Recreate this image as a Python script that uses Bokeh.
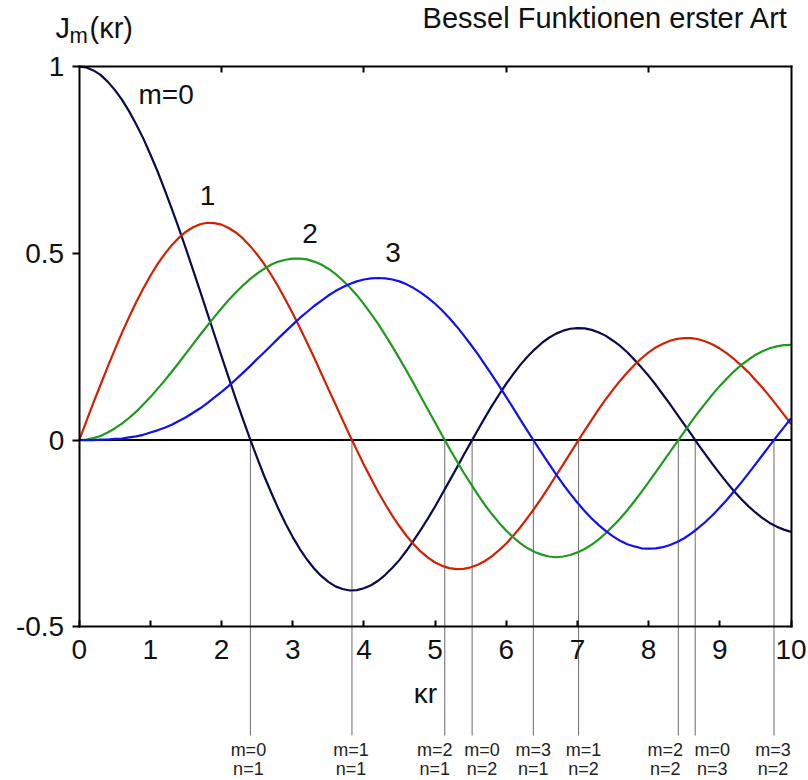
from bokeh.plotting import figure
from bokeh.models import Range1d, LinearAxis, FixedTicker, ColumnDataSource
from bokeh.core.properties import value
from bokeh.embed import file_html
from bokeh.resources import INLINE

# Argument kr (0 ... 10, step 0.1)
kr = [0.0, 0.1, 0.2, 0.3, 0.4, 0.5, 0.6, 0.7, 0.8, 0.9,
      1.0, 1.1, 1.2, 1.3, 1.4, 1.5, 1.6, 1.7, 1.8, 1.9,
      2.0, 2.1, 2.2, 2.3, 2.4, 2.5, 2.6, 2.7, 2.8, 2.9,
      3.0, 3.1, 3.2, 3.3, 3.4, 3.5, 3.6, 3.7, 3.8, 3.9,
      4.0, 4.1, 4.2, 4.3, 4.4, 4.5, 4.6, 4.7, 4.8, 4.9,
      5.0, 5.1, 5.2, 5.3, 5.4, 5.5, 5.6, 5.7, 5.8, 5.9,
      6.0, 6.1, 6.2, 6.3, 6.4, 6.5, 6.6, 6.7, 6.8, 6.9,
      7.0, 7.1, 7.2, 7.3, 7.4, 7.5, 7.6, 7.7, 7.8, 7.9,
      8.0, 8.1, 8.2, 8.3, 8.4, 8.5, 8.6, 8.7, 8.8, 8.9,
      9.0, 9.1, 9.2, 9.3, 9.4, 9.5, 9.6, 9.7, 9.8, 9.9,
      10.0]

# Bessel functions of the first kind J0 ... J3
j0 = [1.000, 0.998, 0.990, 0.978, 0.960, 0.938, 0.912, 0.881, 0.846, 0.808,
      0.765, 0.720, 0.671, 0.620, 0.567, 0.512, 0.455, 0.398, 0.340, 0.282,
      0.224, 0.167, 0.110, 0.056, 0.003, -0.048, -0.097, -0.142, -0.185, -0.224,
      -0.260, -0.292, -0.320, -0.344, -0.364, -0.380, -0.392, -0.399, -0.403, -0.402,
      -0.397, -0.389, -0.377, -0.361, -0.342, -0.321, -0.296, -0.269, -0.240, -0.210,
      -0.178, -0.144, -0.110, -0.076, -0.041, -0.007, 0.027, 0.060, 0.092, 0.122,
      0.151, 0.177, 0.202, 0.224, 0.243, 0.260, 0.274, 0.285, 0.293, 0.298,
      0.300, 0.299, 0.295, 0.288, 0.279, 0.266, 0.252, 0.235, 0.215, 0.194,
      0.172, 0.148, 0.122, 0.096, 0.069, 0.042, 0.015, -0.013, -0.039, -0.065,
      -0.090, -0.114, -0.137, -0.158, -0.177, -0.194, -0.209, -0.222, -0.232, -0.240,
      -0.246]
j1 = [0.000, 0.050, 0.100, 0.148, 0.196, 0.242, 0.287, 0.329, 0.369, 0.406,
      0.440, 0.471, 0.498, 0.522, 0.542, 0.558, 0.570, 0.578, 0.582, 0.581,
      0.577, 0.568, 0.556, 0.540, 0.520, 0.497, 0.471, 0.442, 0.410, 0.375,
      0.339, 0.301, 0.261, 0.221, 0.179, 0.137, 0.096, 0.054, 0.013, -0.027,
      -0.066, -0.103, -0.139, -0.172, -0.203, -0.231, -0.257, -0.279, -0.299, -0.315,
      -0.328, -0.337, -0.343, -0.346, -0.345, -0.341, -0.334, -0.324, -0.311, -0.295,
      -0.277, -0.256, -0.233, -0.208, -0.182, -0.154, -0.125, -0.095, -0.065, -0.035,
      -0.005, 0.025, 0.054, 0.083, 0.110, 0.135, 0.159, 0.181, 0.201, 0.219,
      0.235, 0.248, 0.258, 0.266, 0.271, 0.273, 0.273, 0.270, 0.264, 0.256,
      0.245, 0.232, 0.217, 0.200, 0.182, 0.161, 0.140, 0.117, 0.093, 0.068,
      0.043]
j2 = [0.000, 0.001, 0.005, 0.011, 0.020, 0.031, 0.044, 0.059, 0.076, 0.095,
      0.115, 0.137, 0.159, 0.183, 0.207, 0.232, 0.257, 0.282, 0.306, 0.330,
      0.353, 0.375, 0.395, 0.414, 0.431, 0.446, 0.459, 0.470, 0.478, 0.483,
      0.486, 0.486, 0.484, 0.478, 0.470, 0.459, 0.445, 0.428, 0.409, 0.388,
      0.364, 0.338, 0.311, 0.281, 0.250, 0.218, 0.185, 0.151, 0.116, 0.081,
      0.047, 0.012, -0.022, -0.055, -0.087, -0.117, -0.146, -0.174, -0.199, -0.222,
      -0.243, -0.261, -0.277, -0.290, -0.300, -0.307, -0.312, -0.314, -0.312, -0.308,
      -0.301, -0.292, -0.280, -0.266, -0.249, -0.230, -0.210, -0.188, -0.164, -0.139,
      -0.113, -0.086, -0.059, -0.032, -0.005, 0.022, 0.049, 0.075, 0.099, 0.123,
      0.145, 0.165, 0.184, 0.201, 0.215, 0.228, 0.238, 0.246, 0.251, 0.254,
      0.255]
j3 = [0.000, 0.000, 0.000, 0.001, 0.001, 0.003, 0.004, 0.007, 0.010, 0.014,
      0.020, 0.026, 0.033, 0.041, 0.051, 0.061, 0.073, 0.085, 0.099, 0.114,
      0.129, 0.145, 0.162, 0.180, 0.198, 0.217, 0.235, 0.254, 0.273, 0.291,
      0.309, 0.327, 0.343, 0.359, 0.373, 0.387, 0.399, 0.409, 0.418, 0.425,
      0.430, 0.433, 0.434, 0.433, 0.430, 0.425, 0.417, 0.407, 0.395, 0.381,
      0.365, 0.347, 0.327, 0.305, 0.281, 0.256, 0.230, 0.202, 0.174, 0.145,
      0.115, 0.085, 0.054, 0.024, -0.006, -0.035, -0.064, -0.092, -0.119, -0.144,
      -0.168, -0.190, -0.210, -0.228, -0.244, -0.258, -0.270, -0.279, -0.285, -0.290,
      -0.291, -0.290, -0.287, -0.281, -0.273, -0.263, -0.250, -0.235, -0.219, -0.201,
      -0.181, -0.160, -0.137, -0.114, -0.090, -0.065, -0.040, -0.015, 0.010, 0.034,
      0.058]

curve_names = ["m=0", "1", "2", "3"]
curve_colors = ["#0a0a4e", "#d42000", "#1f9a1f", "#1010f0"]

# Zeros j_{m,n} of the Bessel functions
zero_pos = [2.405, 3.832, 5.136, 5.520, 6.380, 7.016, 8.417, 8.654, 9.761]
zero_m = ["m=0", "m=1", "m=2", "m=0", "m=3", "m=1", "m=2", "m=0", "m=3"]
zero_n = ["n=1", "n=1", "n=1", "n=2", "n=1", "n=2", "n=2", "n=3", "n=2"]

x_ticks = [0, 1, 2, 3, 4, 5, 6, 7, 8, 9, 10]
x_top_ticks = [2, 4, 6, 8]
y_ticks = [-0.5, 0, 0.5, 1]
y_tick_text = ["-0.5", "0", "0.5", "1"]

W, H = 808, 780
# pixel placement of the plot box
PX0, PX10 = 78.7, 790.5
PY1, PYM = 66.2, 626.2
sx = (PX10 - PX0) / 10.0
sy = (PYM - PY1) / 1.5
PY0 = PY1 + sy


def px(xp):
    return (xp - PX0) / sx


def py(yp):
    return (PY0 - yp) / sy


FONT = "Liberation Sans"
INK = "#111111"

p = figure(width=W, height=H, output_backend="svg", toolbar_location=None,
           x_axis_type=None, y_axis_type=None, title=None,
           x_range=Range1d(px(0), px(W)), y_range=Range1d(py(H), py(0)),
           min_border=0, outline_line_color=None,
           background_fill_color="white", border_fill_color="white")
p.xgrid.visible = False
p.ygrid.visible = False

# zero line
p.line([x_ticks[0], x_ticks[-1]], [0, 0], line_color="black", line_width=2)

# drop lines at the zeros, with their m / n captions
zero_src = ColumnDataSource(dict(
    x=zero_pos, m=zero_m, n=zero_n,
    y0=[0] * len(zero_pos), y1=[py(735)] * len(zero_pos),
    ym=[py(749)] * len(zero_pos), yn=[py(768)] * len(zero_pos),
    dx=[-2, -1, -10, 10, 0, 5, -13, 17, -1],
))
p.segment(x0="x", y0="y0", x1="x", y1="y1", source=zero_src,
          line_color="#6a6a6a", line_width=1)
for col, ycol in (("m", "ym"), ("n", "yn")):
    p.text(x="x", y=ycol, text=col, x_offset="dx", source=zero_src,
           text_font=value(FONT), text_font_size="18px", text_align="center",
           text_baseline="middle", text_color="#222222")

# the four curves
for ys, c in zip([j0, j1, j2, j3], curve_colors):
    p.line(kr, ys, line_color=c, line_width=2.2, line_join="round")

# frame axes
tick_font = dict(major_label_text_font=FONT, major_label_text_font_size="28px",
                 major_label_text_color=INK)

bottom = LinearAxis(fixed_location=-0.5, bounds=(0, 10),
                    ticker=FixedTicker(ticks=x_ticks, minor_ticks=[]),
                    major_tick_in=6, major_tick_out=0, minor_tick_line_color=None,
                    axis_line_width=2, axis_line_cap="square", major_tick_line_width=2,
                    major_label_standoff=13, **tick_font)
p.add_layout(bottom, "below")

top = LinearAxis(fixed_location=1, bounds=(0, 10),
                 ticker=FixedTicker(ticks=x_top_ticks, minor_ticks=[]),
                 major_tick_in=6, major_tick_out=0, minor_tick_line_color=None,
                 axis_line_width=2, axis_line_cap="square", major_tick_line_width=2,
                 major_label_text_color=None)
p.add_layout(top, "above")

left = LinearAxis(fixed_location=0, bounds=(-0.5, 1),
                  ticker=FixedTicker(ticks=y_ticks, minor_ticks=[]),
                  major_tick_in=0, major_tick_out=7, minor_tick_line_color=None,
                  axis_line_width=2, axis_line_cap="square", major_tick_line_width=2,
                  major_label_standoff=8,
                  major_label_overrides=dict(zip(y_ticks, y_tick_text)), **tick_font)
p.add_layout(left, "left")

right = LinearAxis(fixed_location=10, bounds=(-0.5, 1),
                   ticker=FixedTicker(ticks=[], minor_ticks=[]),
                   major_tick_line_color=None, minor_tick_line_color=None,
                   axis_line_width=2, axis_line_cap="square",
                   major_label_text_color=None)
p.add_layout(right, "right")


def label(xp, yp, txt, size="28px", align="left"):
    p.text(x=[px(xp)], y=[py(yp)], text=[txt], text_font=value(FONT),
           text_font_size=size, text_align=align, text_baseline="middle",
           text_color=INK)


# curve labels
label(138, 94, curve_names[0])
label(207, 195, curve_names[1], align="center")
label(309.5, 233, curve_names[2], align="center")
label(392.5, 252, curve_names[3], align="center")

# axis titles and heading
label(425, 693, "κr", align="center")
label(55, 27, "J", size="29px")
label(69, 35, "m", size="22px")
label(89, 27, "(κr)", size="29px")
label(788, 17.5, "Bessel Funktionen erster Art", size="29px", align="right")

open("out.html", "w").write(file_html(p, INLINE))
